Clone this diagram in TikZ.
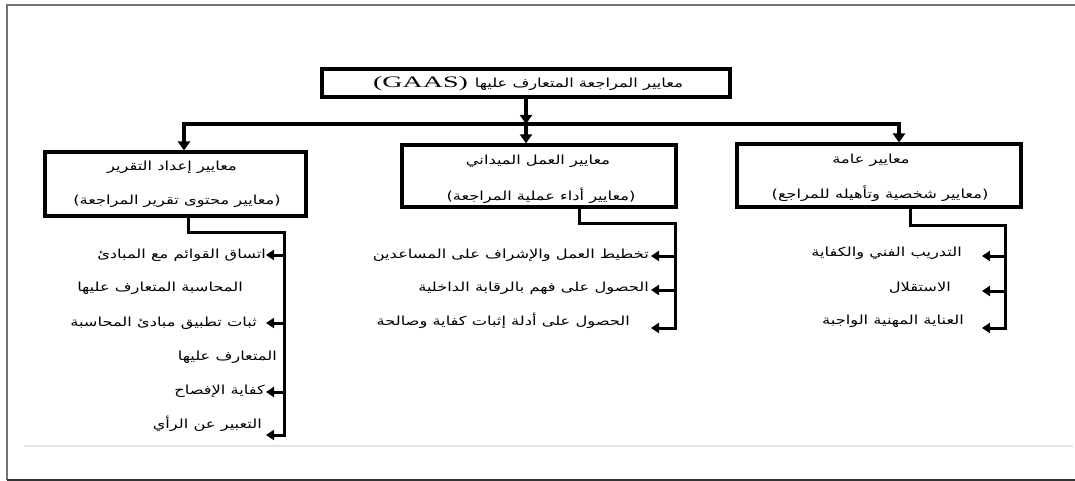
\documentclass[tikz,border=0pt]{standalone}
\usepackage{fontspec}
\TeXXeTstate=1
\newfontfamily\arabicfont[Script=Arabic,FakeStretch=1.3]{DejaVu Sans}
\newfontfamily\parenfont[FakeStretch=1.3]{DejaVu Sans}
\newfontfamily\latinwide[FakeStretch=1.75]{Liberation Serif}
\setmainfont{Liberation Serif}
\usetikzlibrary{arrows.meta}
\newcommand{\paren}[1]{{\parenfont(}{\beginR #1\endR}{\parenfont)}}
\begin{document}
\begin{tikzpicture}[x=1pt,y=-1pt,
  box/.style={draw, line width=3.3pt, inner sep=0pt},
  arr/.style={line width=3.3pt, -{Triangle[width=12pt,length=9pt]}},
  sarr/.style={line width=3pt, -{Triangle[width=10pt,length=8pt]}},
  lbl/.style={font=\arabicfont\fontsize{12.5}{14}\selectfont, inner sep=0pt, anchor=east},
  btxt/.style={font=\arabicfont\fontsize{12.5}{14}\selectfont, inner sep=0pt},
  frameline/.style={draw=black!55, line width=1.2pt},
]
\useasboundingbox (0,0) rectangle (1075,481);
\fill[white] (0,0) rectangle (1075,481);
% outer frame
\coordinate (fTL) at (7,5);
\coordinate (fTR) at (1075,5);
\coordinate (fBL) at (7,480);
\coordinate (fBR) at (1075,480);
\draw[frameline] (fTR) -- (fTL) -- (fBL);
\draw[black!80, line width=1.4pt] (fBL) -- (fBR);
\coordinate (gL) at (24,446);
\coordinate (gR) at (1073,446);
\draw[black!10, line width=1.8pt] (gL) -- (gR);

% boxes
\node[box, minimum width=408, minimum height=28] (top) at (526,83) {};
\node[box, minimum width=261, minimum height=64] (lbox) at (175.5,184) {};
\node[box, minimum width=274, minimum height=62] (mbox) at (539,176) {};
\node[box, minimum width=284, minimum height=63] (rbox) at (879,175.5) {};

% box texts
\node[inner sep=0pt] (toptxt) at (528,84)
  {{\latinwide\fontsize{16}{18}\selectfont (GAAS)}\hspace{7pt}{\arabicfont\fontsize{12.5}{16}\selectfont\beginR معايير المراجعة المتعارف عليها\endR}};
\node[btxt] (lt1) at (172,167) {\beginR معايير إعداد التقرير\endR};
\node[btxt] (lt2) at (177,201) {\paren{معايير محتوى تقرير المراجعة}};
\node[btxt] (mt1) at (538,161) {\beginR معايير العمل الميداني\endR};
\node[btxt] (mt2) at (541,196) {\paren{معايير أداء عملية المراجعة}};
\node[btxt] (rt1) at (871,160) {\beginR معايير عامة\endR};
\node[btxt] (rt2) at (880,194) {\paren{معايير شخصية وتأهيله للمراجع}};

% top connectors
\coordinate (barM) at (526,124);
\coordinate (la) at (184,150.5);
\coordinate (ra) at (899,142.5);
\draw[arr] (top.south) -- (barM);
\draw[arr] (barM) -| (la);
\draw[arr] (barM) -| (ra);
\draw[arr] (barM) -- (barM |- mbox.north);

% left column
\coordinate (l0) at (188,232);
\coordinate (l1) at (284,232);
\coordinate (lb) at (284,435);
\coordinate (lt) at (266,435);
\draw[sarr] (lbox.south -| l0) -- (l0) -- (l1) -- (lb) -- (lt);
\coordinate (la1) at (284,255);   \coordinate (la1t) at (266,255);
\coordinate (la2) at (284,323);   \coordinate (la2t) at (266,323);
\coordinate (la3) at (284,392);   \coordinate (la3t) at (266,392);
\draw[sarr] (la1) -- (la1t);
\draw[sarr] (la2) -- (la2t);
\draw[sarr] (la3) -- (la3t);
\node[lbl] (li1) at (266,255) {\beginR اتساق القوائم مع المبادئ\endR};
\node[lbl] (li2) at (243,288) {\beginR المحاسبة المتعارف عليها\endR};
\node[lbl] (li3) at (257,323) {\beginR ثبات تطبيق مبادئ المحاسبة\endR};
\node[lbl] (li4) at (277,357) {\beginR المتعارف عليها\endR};
\node[lbl] (li5) at (265,391) {\beginR كفاية الإفصاح\endR};
\node[lbl] (li6) at (262,424) {\beginR التعبير عن الرأي\endR};

% middle column
\coordinate (m0) at (579,223);
\coordinate (m1) at (675,223);
\coordinate (mb) at (675,328);
\coordinate (mt) at (651,328);
\draw[sarr] (mbox.south -| m0) -- (m0) -- (m1) -- (mb) -- (mt);
\coordinate (ma1) at (675,256);   \coordinate (ma1t) at (651,256);
\coordinate (ma2) at (675,290);   \coordinate (ma2t) at (651,290);
\draw[sarr] (ma1) -- (ma1t);
\draw[sarr] (ma2) -- (ma2t);
\node[lbl] (mi1) at (649,255) {\beginR تخطيط العمل والإشراف على المساعدين\endR};
\node[lbl] (mi2) at (649,288) {\beginR الحصول على فهم بالرقابة الداخلية\endR};
\node[lbl] (mi3) at (630,321) {\beginR الحصول على أدلة إثبات كفاية وصالحة\endR};

% right column
\coordinate (r0) at (910,225);
\coordinate (r1) at (1005,225);
\coordinate (rb) at (1005,328);
\coordinate (rt) at (982,328);
\draw[sarr] (rbox.south -| r0) -- (r0) -- (r1) -- (rb) -- (rt);
\coordinate (ra1) at (1005,256);   \coordinate (ra1t) at (982,256);
\coordinate (ra2) at (1005,291);   \coordinate (ra2t) at (982,291);
\draw[sarr] (ra1) -- (ra1t);
\draw[sarr] (ra2) -- (ra2t);
\node[lbl] (ri1) at (962,253) {\beginR التدريب الفني والكفاية\endR};
\node[lbl] (ri2) at (951,288) {\beginR الاستقلال\endR};
\node[lbl] (ri3) at (964,321) {\beginR العناية المهنية الواجبة\endR};
\end{tikzpicture}
\end{document}
